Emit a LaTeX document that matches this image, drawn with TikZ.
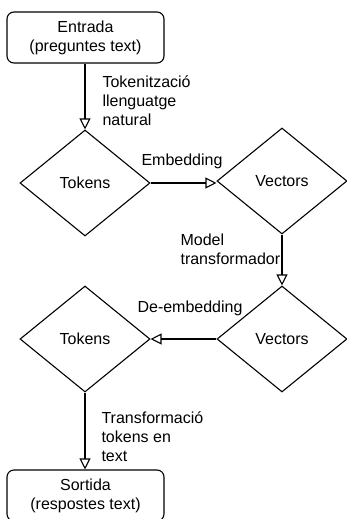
\documentclass[tikz,border=0pt]{standalone}
\usepackage{fontspec}
\setmainfont{Liberation Sans}
\usetikzlibrary{shapes.geometric,arrows.meta}
\begin{document}
\begin{tikzpicture}[x=1pt,y=-1pt,line width=1.1pt,
  every node/.style={font=\fontsize{16}{19}\selectfont},
  box/.style={draw,rounded corners=7pt,minimum width=157pt,minimum height=51pt,align=center,inner sep=0pt},
  dia/.style={draw,diamond,aspect=1.226,minimum width=130pt,minimum height=106pt,inner sep=0pt},
  lbl/.style={align=left,inner sep=0pt,anchor=base west},
  flow/.style={-{Triangle[open,length=11pt,width=11pt]},line width=1.1pt}]
\useasboundingbox (0,0) rectangle (346,519);
\node[box] (in) at (85.5,37.5) {Entrada\\(preguntes text)};
\node[dia] (t1) at (85,183) {Tokens};
\node[dia] (v1) at (282,181) {Vectors};
\node[dia] (v2) at (282,339) {Vectors};
\node[dia] (t2) at (85,339) {Tokens};
\node[box] (out) at (85.5,495.5) {Sortida\\(respostes text)};
\draw[flow] (in.south -| t1.north) -- (t1.north);
\draw[flow] (t1.east) -- (t1.east -| v1.west);
\draw[flow] (v1.south) -- (v2.north);
\draw[flow] (v2.west) -- (t2.east);
\draw[flow] (t2.south) -- (t2.south |- out.north);
\node[lbl] (l1) at (102,125) {Tokenització\\llenguatge\\natural};
\node[lbl] (l2) at (141,165) {Embedding};
\node[lbl] (l3) at (180,264) {Model\\transformador};
\node[lbl] (l4) at (137,312) {De-embedding};
\node[lbl] (l5) at (101,461) {Transformació\\tokens en\\text};
\end{tikzpicture}
\end{document}
